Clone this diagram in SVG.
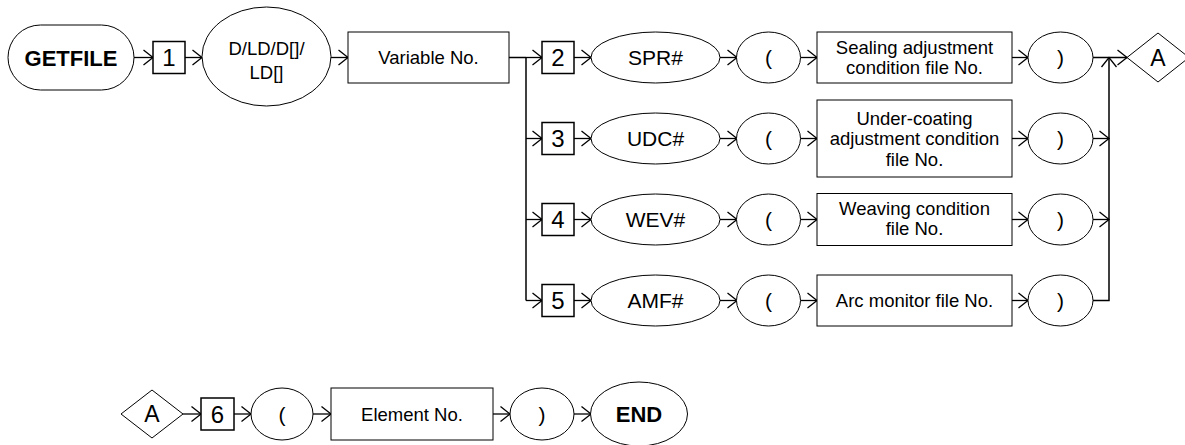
<svg xmlns="http://www.w3.org/2000/svg" width="1185" height="445" viewBox="0 0 1185 445">
<defs>
<marker id="arr" markerUnits="userSpaceOnUse" markerWidth="12" markerHeight="18" viewBox="-1 -9 12 18" refX="9.5" refY="0" orient="auto">
<path d="M0,-7.5 L9.5,0 L0,7.5" fill="none" stroke="#000" stroke-width="1.3"/>
</marker>
</defs>
<style>
.s{fill:#fff;stroke:#000;stroke-width:1}
.n{fill:#fff;stroke:#000;stroke-width:1.5}
.c{fill:none;stroke:#000;stroke-width:1.5}
.a{fill:none;stroke:#000;stroke-width:1.3;marker-end:url(#arr)}
text{font-family:"Liberation Sans",Arial,sans-serif;fill:#000;text-anchor:middle}
.t{font-size:18.5px}
.k{font-size:21px}
.d{font-size:24px}
.e{font-size:23px}
.b{font-size:22px;font-weight:bold}
</style>
<g id="connectors">
<line class="a" x1="134" y1="57.5" x2="153" y2="57.5"/>
<line class="a" x1="185" y1="57.5" x2="202" y2="57.5"/>
<line class="a" x1="331" y1="57.5" x2="348" y2="57.5"/>
<line class="c" x1="509" y1="57.5" x2="526" y2="57.5"/>
<line class="c" x1="526" y1="57.5" x2="526" y2="300.5"/>
<line class="a" x1="526" y1="57.5" x2="542" y2="57.5"/>
<line class="a" x1="526" y1="138.5" x2="542" y2="138.5"/>
<line class="a" x1="526" y1="219.5" x2="542" y2="219.5"/>
<line class="a" x1="526" y1="300.5" x2="542" y2="300.5"/>
<line class="a" x1="574" y1="57.5" x2="591" y2="57.5"/>
<line class="a" x1="574" y1="138.5" x2="591" y2="138.5"/>
<line class="a" x1="574" y1="219.5" x2="591" y2="219.5"/>
<line class="a" x1="574" y1="300.5" x2="591" y2="300.5"/>
<line class="a" x1="720" y1="57.5" x2="737" y2="57.5"/>
<line class="a" x1="720" y1="138.5" x2="737" y2="138.5"/>
<line class="a" x1="720" y1="219.5" x2="737" y2="219.5"/>
<line class="a" x1="720" y1="300.5" x2="737" y2="300.5"/>
<line class="a" x1="800.5" y1="57.5" x2="817" y2="57.5"/>
<line class="a" x1="800.5" y1="138.5" x2="817" y2="138.5"/>
<line class="a" x1="800.5" y1="219.5" x2="817" y2="219.5"/>
<line class="a" x1="800.5" y1="300.5" x2="817" y2="300.5"/>
<line class="a" x1="1012" y1="57.5" x2="1028" y2="57.5"/>
<line class="a" x1="1012" y1="138.5" x2="1028" y2="138.5"/>
<line class="a" x1="1012" y1="219.5" x2="1028" y2="219.5"/>
<line class="a" x1="1012" y1="300.5" x2="1028" y2="300.5"/>
<line class="a" x1="1093" y1="57.5" x2="1127" y2="57.5"/>
<line class="a" x1="1093" y1="138.5" x2="1109" y2="138.5"/>
<line class="a" x1="1093" y1="219.5" x2="1109" y2="219.5"/>
<polyline class="a" points="1093,300.5 1109,300.5 1109,57.5" style="stroke-width:1.5"/>
<line class="a" x1="183" y1="414" x2="201" y2="414"/>
<line class="a" x1="234" y1="414" x2="251" y2="414"/>
<line class="a" x1="313" y1="414" x2="331" y2="414"/>
<line class="a" x1="493" y1="414" x2="510" y2="414"/>
<line class="a" x1="574" y1="414" x2="591" y2="414"/>
</g>
<g id="getfile"><rect class="s" x="8" y="25" width="126" height="65" rx="32.5"/><text class="b" x="71" y="65.5">GETFILE</text></g>
<g id="n1"><rect class="n" x="153" y="41.5" width="32" height="32"/><text class="d" x="169" y="66">1</text></g>
<g id="dld"><ellipse class="s" cx="266.5" cy="56.5" rx="64.5" ry="49.5"/><text class="t" x="266.5" y="54.5">D/LD/D[]/</text><text class="t" x="266.5" y="78.5">LD[]</text></g>
<g id="varno"><rect class="s" x="348" y="32" width="161" height="51"/><text class="t" x="428.5" y="64">Variable No.</text></g>
<g id="n2"><rect class="n" x="542" y="41.5" width="32" height="32"/><text class="d" x="558" y="66">2</text></g>
<g id="spr"><ellipse class="s" cx="655.5" cy="57.5" rx="64.5" ry="25.5"/><text class="k" x="655.5" y="65">SPR#</text></g>
<g id="lp1"><ellipse class="s" cx="768.5" cy="57.5" rx="32" ry="25.5"/><text class="k" x="768.5" y="65">(</text></g>
<g id="seal"><rect class="s" x="817" y="32" width="195" height="51"/><text class="t" x="914.5" y="53.5">Sealing adjustment</text><text class="t" x="914.5" y="73.5">condition file No.</text></g>
<g id="rp1"><ellipse class="s" cx="1060.5" cy="57.5" rx="32.5" ry="25.5"/><text class="k" x="1060.5" y="65">)</text></g>
<g id="n3"><rect class="n" x="542" y="122.5" width="32" height="32"/><text class="d" x="558" y="147">3</text></g>
<g id="udc"><ellipse class="s" cx="655.5" cy="138.5" rx="64.5" ry="25.5"/><text class="k" x="655.5" y="146">UDC#</text></g>
<g id="lp2"><ellipse class="s" cx="768.5" cy="138.5" rx="32" ry="25.5"/><text class="k" x="768.5" y="146">(</text></g>
<g id="under"><rect class="s" x="817" y="100" width="195" height="77"/><text class="t" x="914.5" y="124.5">Under-coating</text><text class="t" x="914.5" y="145">adjustment condition</text><text class="t" x="914.5" y="165.5">file No.</text></g>
<g id="rp2"><ellipse class="s" cx="1060.5" cy="138.5" rx="32.5" ry="25.5"/><text class="k" x="1060.5" y="146">)</text></g>
<g id="n4"><rect class="n" x="542" y="203.5" width="32" height="32"/><text class="d" x="558" y="228">4</text></g>
<g id="wev"><ellipse class="s" cx="655.5" cy="219.5" rx="64.5" ry="25.5"/><text class="k" x="655.5" y="227">WEV#</text></g>
<g id="lp3"><ellipse class="s" cx="768.5" cy="219.5" rx="32" ry="25.5"/><text class="k" x="768.5" y="227">(</text></g>
<g id="weave"><rect class="s" x="817" y="193.5" width="195" height="52"/><text class="t" x="914.5" y="215">Weaving condition</text><text class="t" x="914.5" y="235">file No.</text></g>
<g id="rp3"><ellipse class="s" cx="1060.5" cy="219.5" rx="32.5" ry="25.5"/><text class="k" x="1060.5" y="227">)</text></g>
<g id="n5"><rect class="n" x="542" y="284.5" width="32" height="32"/><text class="d" x="558" y="309">5</text></g>
<g id="amf"><ellipse class="s" cx="655.5" cy="300.5" rx="64.5" ry="25.5"/><text class="k" x="655.5" y="308">AMF#</text></g>
<g id="lp4"><ellipse class="s" cx="768.5" cy="300.5" rx="32" ry="25.5"/><text class="k" x="768.5" y="308">(</text></g>
<g id="arc"><rect class="s" x="817" y="275" width="195" height="51"/><text class="t" x="914.5" y="307">Arc monitor file No.</text></g>
<g id="rp4"><ellipse class="s" cx="1060.5" cy="300.5" rx="32.5" ry="25.5"/><text class="k" x="1060.5" y="308">)</text></g>
<g id="connA1"><polygon class="s" points="1127,57.5 1158,33 1189,57.5 1158,82"/><text class="e" x="1158" y="65.5">A</text></g>
<g id="connA2"><polygon class="s" points="121,414 152,390 183,414 152,438"/><text class="e" x="152" y="422">A</text></g>
<g id="n6"><rect class="n" x="201" y="398" width="33" height="32"/><text class="d" x="217.5" y="422.5">6</text></g>
<g id="lp5"><ellipse class="s" cx="282" cy="414" rx="31" ry="26"/><text class="k" x="282" y="421.5">(</text></g>
<g id="elem"><rect class="s" x="331" y="388" width="162" height="52"/><text class="t" x="412" y="420.5">Element No.</text></g>
<g id="rp5"><ellipse class="s" cx="542" cy="414" rx="32" ry="26"/><text class="k" x="542" y="421.5">)</text></g>
<g id="end"><ellipse class="s" cx="639" cy="414" rx="48.5" ry="32"/><text class="b" x="639" y="422">END</text></g>
</svg>
